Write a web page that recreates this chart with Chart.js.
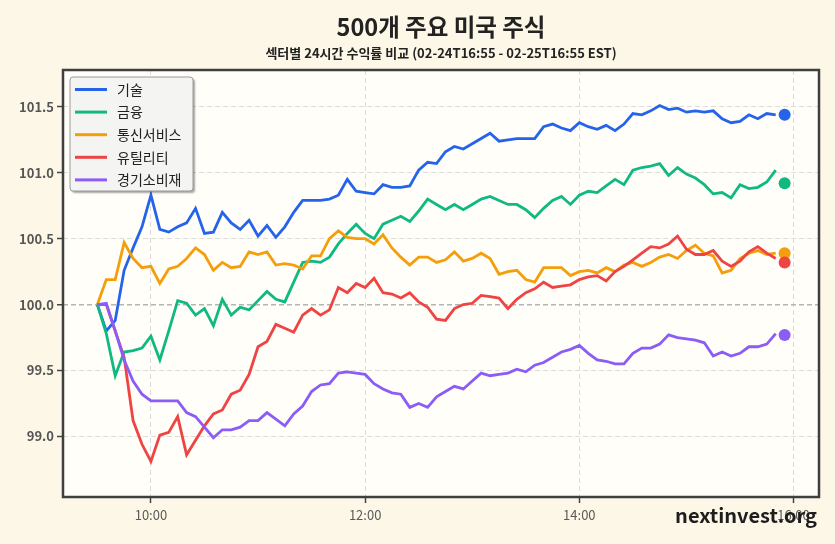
<!DOCTYPE html>
<html>
<head>
<meta charset="utf-8">
<script src="https://cdn.jsdelivr.net/npm/chart.js@4.4.1/dist/chart.umd.min.js"></script>
<style>
    html, body { margin: 0; padding: 0; background: #fdf7e7; }
    #wrap { position: relative; width: 835px; height: 544px; }
</style>
</head>
<body>
<div id="wrap"><canvas id="sectorChart" width="835" height="544"></canvas></div>
<script>
// 5-minute samples, the last one (15:55) is the closing dot
var times = [
    '09:30','09:35','09:40','09:45','09:50','09:55','10:00','10:05','10:10','10:15',
    '10:20','10:25','10:30','10:35','10:40','10:45','10:50','10:55','11:00','11:05',
    '11:10','11:15','11:20','11:25','11:30','11:35','11:40','11:45','11:50','11:55',
    '12:00','12:05','12:10','12:15','12:20','12:25','12:30','12:35','12:40','12:45',
    '12:50','12:55','13:00','13:05','13:10','13:15','13:20','13:25','13:30','13:35',
    '13:40','13:45','13:50','13:55','14:00','14:05','14:10','14:15','14:20','14:25',
    '14:30','14:35','14:40','14:45','14:50','14:55','15:00','15:05','15:10','15:15',
    '15:20','15:25','15:30','15:35','15:40','15:45','15:50','15:55'
];

var seriesNames = ['기술', '금융', '통신서비스', '유틸리티', '경기소비재'];

var tech = [
    100.00, 99.80, 99.88, 100.26, 100.43, 100.59, 100.83, 100.57, 100.55, 100.59,
    100.62, 100.73, 100.54, 100.55, 100.70, 100.62, 100.57, 100.64, 100.52, 100.60,
    100.51, 100.59, 100.70, 100.79, 100.79, 100.79, 100.80, 100.83, 100.95, 100.86,
    100.85, 100.84, 100.91, 100.89, 100.89, 100.90, 101.02, 101.08, 101.07, 101.16,
    101.20, 101.18, 101.22, 101.26, 101.30, 101.24, 101.25, 101.26, 101.26, 101.26,
    101.35, 101.37, 101.34, 101.32, 101.38, 101.35, 101.33, 101.36, 101.32, 101.37,
    101.45, 101.44, 101.47, 101.51, 101.48, 101.49, 101.46, 101.47, 101.46, 101.47,
    101.41, 101.38, 101.39, 101.44, 101.41, 101.45, 101.44, 101.44
];
var finance = [
    100.00, 99.78, 99.46, 99.64, 99.65, 99.67, 99.76, 99.58, 99.80, 100.03,
    100.01, 99.92, 99.97, 99.84, 100.04, 99.92, 99.98, 99.96, 100.03, 100.10,
    100.04, 100.02, 100.17, 100.32, 100.33, 100.32, 100.36, 100.46, 100.54, 100.61,
    100.54, 100.50, 100.61, 100.64, 100.67, 100.63, 100.71, 100.80, 100.76, 100.72,
    100.76, 100.72, 100.76, 100.80, 100.82, 100.79, 100.76, 100.76, 100.72, 100.66,
    100.73, 100.79, 100.82, 100.76, 100.83, 100.86, 100.85, 100.90, 100.95, 100.91,
    101.02, 101.04, 101.05, 101.07, 100.98, 101.04, 100.99, 100.96, 100.91, 100.84,
    100.85, 100.81, 100.91, 100.88, 100.89, 100.93, 101.02, 100.92
];
var telecom = [
    100.00, 100.19, 100.19, 100.47, 100.35, 100.28, 100.29, 100.16, 100.27, 100.29,
    100.35, 100.43, 100.38, 100.26, 100.32, 100.28, 100.29, 100.40, 100.38, 100.40,
    100.30, 100.31, 100.30, 100.27, 100.37, 100.37, 100.50, 100.56, 100.51, 100.50,
    100.50, 100.46, 100.53, 100.43, 100.36, 100.30, 100.36, 100.36, 100.32, 100.34,
    100.40, 100.33, 100.35, 100.39, 100.35, 100.23, 100.25, 100.26, 100.19, 100.17,
    100.28, 100.28, 100.28, 100.22, 100.25, 100.26, 100.24, 100.28, 100.25, 100.30,
    100.32, 100.29, 100.32, 100.36, 100.38, 100.35, 100.41, 100.45, 100.39, 100.37,
    100.24, 100.26, 100.35, 100.39, 100.41, 100.38, 100.39, 100.39
];
var utilities = [
    100.00, 100.00, 99.80, 99.60, 99.12, 98.94, 98.81, 99.01, 99.03, 99.15,
    98.86, 98.97, 99.08, 99.17, 99.20, 99.32, 99.35, 99.47, 99.68, 99.72,
    99.85, 99.82, 99.79, 99.92, 99.97, 99.92, 99.96, 100.13, 100.09, 100.16,
    100.13, 100.20, 100.09, 100.08, 100.05, 100.09, 100.02, 99.98, 99.89, 99.88,
    99.97, 100.00, 100.01, 100.07, 100.06, 100.05, 99.97, 100.04, 100.09, 100.12,
    100.17, 100.13, 100.14, 100.15, 100.19, 100.21, 100.22, 100.18, 100.25, 100.29,
    100.34, 100.39, 100.44, 100.43, 100.46, 100.52, 100.42, 100.38, 100.38, 100.41,
    100.33, 100.29, 100.33, 100.40, 100.44, 100.39, 100.35, 100.32
];
var consumer = [
    100.00, 100.01, 99.80, 99.58, 99.42, 99.32, 99.27, 99.27, 99.27, 99.27,
    99.18, 99.15, 99.07, 98.99, 99.05, 99.05, 99.07, 99.12, 99.12, 99.18,
    99.13, 99.08, 99.17, 99.23, 99.34, 99.39, 99.40, 99.48, 99.49, 99.48,
    99.47, 99.40, 99.36, 99.33, 99.32, 99.22, 99.25, 99.22, 99.30, 99.34,
    99.38, 99.36, 99.42, 99.48, 99.46, 99.47, 99.48, 99.51, 99.49, 99.54,
    99.56, 99.60, 99.64, 99.66, 99.69, 99.63, 99.58, 99.57, 99.55, 99.55,
    99.63, 99.67, 99.67, 99.70, 99.77, 99.75, 99.74, 99.73, 99.71, 99.61,
    99.64, 99.61, 99.63, 99.68, 99.68, 99.70, 99.78, 99.77
];

var yTickValues = [99.0, 99.5, 100.0, 100.5, 101.0, 101.5];
var xTickLabels = ['10:00', '12:00', '14:00', '16:00'];

var colors = ['#2563eb', '#10b981', '#f59e0b', '#ef4444', '#8b5cf6'];
var FONT = '"Noto Sans CJK KR", "Noto Sans", sans-serif';

function toMinutes(t) {
    var p = t.split(':');
    return parseInt(p[0], 10) * 60 + parseInt(p[1], 10);
}

var lastIdx = times.length - 1;

function makeDataset(name, values, color, order) {
    return {
        label: name,
        data: values.map(function(v, i) { return { x: toMinutes(times[i]), y: v }; }),
        borderColor: color,
        backgroundColor: color,
        borderWidth: 2.8,
        tension: 0,
        order: order,
        pointRadius: function(c) { return c.dataIndex === lastIdx ? 6 : 0; },
        pointHoverRadius: 0,
        pointBorderWidth: 0,
        pointBackgroundColor: color,
        segment: {
            // the closing value is shown as a dot only
            borderColor: function(c) { return c.p1DataIndex === lastIdx ? 'rgba(0,0,0,0)' : undefined; }
        }
    };
}

var seriesValues = [tech, finance, telecom, utilities, consumer];

var headerPlugin = {
    id: 'header',
    beforeDraw: function(chart) {
        var ctx = chart.ctx, a = chart.chartArea;
        ctx.save();
        ctx.fillStyle = '#fffef9';
        ctx.fillRect(a.left, a.top, a.right - a.left, a.bottom - a.top);
        ctx.restore();
    },
    afterDraw: function(chart) {
        var ctx = chart.ctx, a = chart.chartArea;
        var cx = (a.left + a.right) / 2;
        ctx.save();
        // frame
        ctx.strokeStyle = '#3f3f3f';
        ctx.lineWidth = 2.5;
        ctx.strokeRect(a.left, a.top, a.right - a.left, a.bottom - a.top);

        // titles, centred over the plot area
        ctx.fillStyle = '#222';
        ctx.textAlign = 'center';
        ctx.textBaseline = 'middle';
        ctx.font = 'bold 23.5px ' + FONT;
        ctx.fillText('500개 주요 미국 주식', cx, 27);
        ctx.font = '600 13px ' + FONT;
        ctx.fillText('섹터별 24시간 수익률 비교 (02-24T16:55 - 02-25T16:55 EST)', cx, 53);

        // watermark
        ctx.textAlign = 'right';
        ctx.font = 'bold 20px ' + FONT;
        ctx.fillStyle = '#1e1e1e';
        ctx.fillText('nextinvest.org', 817, 515);

        // legend
        var bx = a.left + 7, by = a.top + 7, bw = 123, bh = 114;
        ctx.shadowColor = 'rgba(0,0,0,0.35)';
        ctx.shadowOffsetX = 2;
        ctx.shadowOffsetY = 2;
        ctx.shadowBlur = 2;
        ctx.fillStyle = '#f4f4f2';
        ctx.beginPath();
        ctx.roundRect(bx, by, bw, bh, 3);
        ctx.fill();
        ctx.shadowColor = 'rgba(0,0,0,0)';
        ctx.strokeStyle = '#9a9a9a';
        ctx.lineWidth = 1;
        ctx.stroke();

        ctx.textAlign = 'left';
        ctx.font = '14px ' + FONT;
        seriesNames.forEach(function(name, i) {
            var yy = by + 12.5 + i * 22.6;
            ctx.strokeStyle = colors[i];
            ctx.lineWidth = 3;
            ctx.beginPath();
            ctx.moveTo(bx + 5, yy);
            ctx.lineTo(bx + 37, yy);
            ctx.stroke();
            ctx.fillStyle = '#222';
            ctx.fillText(name, bx + 47, yy);
        });
        ctx.restore();
    }
};

var chart = new Chart(document.getElementById('sectorChart'), {
    type: 'line',
    data: {
        datasets: seriesValues.map(function(vals, i) {
            return makeDataset(seriesNames[i], vals, colors[i], 4 - i);
        })
    },
    options: {
        responsive: false,
        devicePixelRatio: 1,
        animation: false,
        layout: { padding: { top: 70, right: 16, left: 0, bottom: 0 } },
        plugins: {
            legend: { display: false },
            tooltip: { enabled: false }
        },
        scales: {
            x: {
                type: 'linear',
                min: 550.75,
                max: 974.25,
                afterFit: function(s) { s.height = 47; },
                afterBuildTicks: function(s) {
                    s.ticks = xTickLabels.map(function(l) { return { value: toMinutes(l) }; });
                },
                ticks: {
                    callback: function(v) {
                        var h = Math.floor(v / 60), m = v % 60;
                        return (h < 10 ? '0' : '') + h + ':' + (m < 10 ? '0' : '') + m;
                    },
                    color: '#5a5a5a',
                    padding: 4,
                    maxRotation: 0,
                    font: { family: FONT, size: 13 }
                },
                grid: {
                    color: '#dcdcdc',
                    lineWidth: 1,
                    tickLength: 6,
                    tickColor: '#444',
                    tickWidth: 1.5
                },
                border: { display: false, dash: [5, 3] }
            },
            y: {
                min: 98.54,
                max: 101.78,
                afterFit: function(s) { s.width = 63; },
                afterBuildTicks: function(s) {
                    s.ticks = yTickValues.map(function(v) { return { value: v }; });
                },
                ticks: {
                    callback: function(v) { return v.toFixed(1); },
                    color: '#555',
                    padding: 3,
                    font: { family: FONT, size: 13, weight: '600' }
                },
                grid: {
                    color: function(c) { return c.tick && c.tick.value === 100 ? '#b4b4b4' : '#dcdcdc'; },
                    lineWidth: function(c) { return c.tick && c.tick.value === 100 ? 1.5 : 1; },
                    tickLength: 6,
                    tickColor: '#444',
                    tickWidth: 1.5
                },
                border: { display: false, dash: [5, 3] }
            }
        }
    },
    plugins: [headerPlugin]
});
</script>
</body>
</html>
